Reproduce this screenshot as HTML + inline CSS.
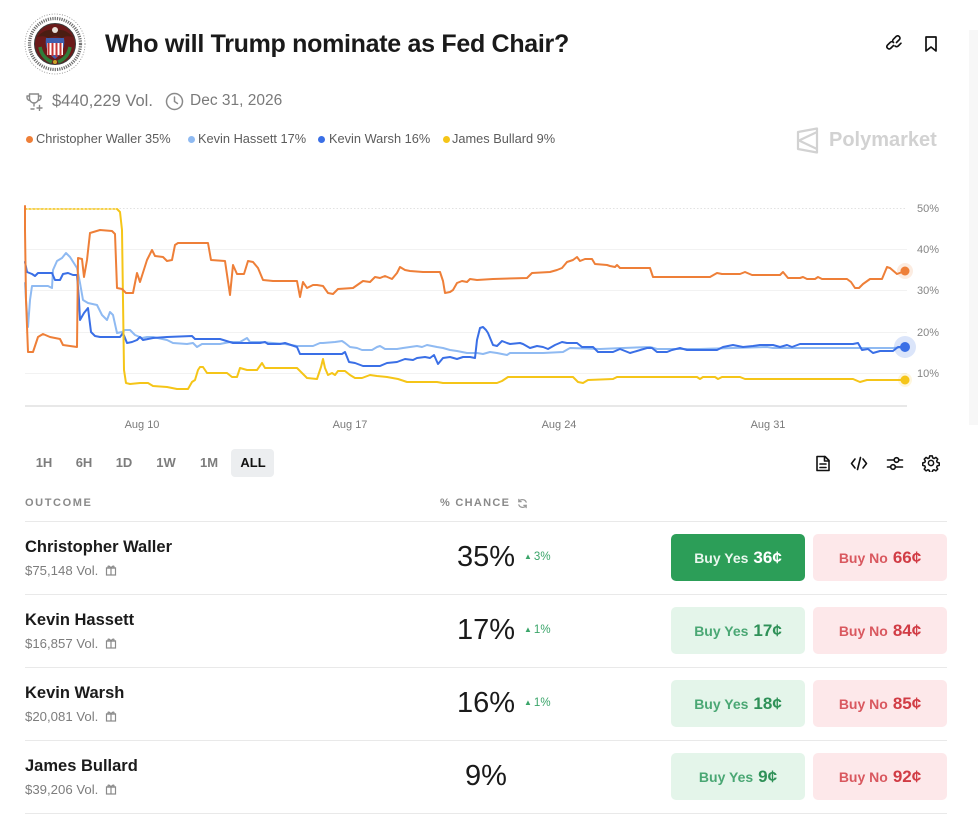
<!DOCTYPE html>
<html><head><meta charset="utf-8">
<style>
*{margin:0;padding:0;box-sizing:border-box}
body{width:978px;height:814px;background:#fff;font-family:"Liberation Sans",Arial,sans-serif;position:relative;overflow:hidden;color:#1b1b1b}
.a{position:absolute;white-space:nowrap}
.title{left:105px;top:29px;font-size:25px;line-height:30px;font-weight:bold;letter-spacing:-0.3px;color:#1a1a1a}
.meta{top:91px;font-size:16.5px;line-height:20px;color:#7a7a7a}
.leg{top:131px;font-size:12.8px;line-height:16px;color:#5c5c5c}
.dot{width:7px;height:7px;border-radius:50%;top:135.5px}
.tb{top:455px;font-size:13px;line-height:16px;font-weight:bold;color:#7d7d7d;transform:translateX(-50%)}
.hdr{top:497px;font-size:11px;line-height:12px;font-weight:bold;color:#8a8a8a;letter-spacing:1.6px}
.sep{left:25px;width:922px;height:1px;background:#e9e9e9}
.name{left:25px;font-size:16.5px;line-height:20px;font-weight:bold;color:#1b1b1b}
.vol{left:25px;font-size:13.2px;line-height:14px;color:#7d7d7d}
.pct{left:436px;width:100px;text-align:center;font-size:29px;line-height:32px;color:#1a1a1a}
.chg{left:524px;font-size:11.5px;line-height:14px;color:#3ba56a}
.chg b{font-size:8px;font-weight:normal;position:relative;top:-1px;margin-right:2px}
.btn{height:47px;width:134px;border-radius:5px;display:flex;align-items:center;justify-content:center;font-weight:bold;font-size:14px}
.btn span{font-size:17px;margin-left:5px}
.yes{left:671px;background:#e4f5ea;color:#4aa774}
.yes span{color:#2f9158}
.yesS{left:671px;background:#2c9e58;color:#e9f7ee}
.yesS span{color:#fff}
.no{left:813px;background:#fde8ea;color:#d9585f}
.no span{color:#d13c45}
</style></head><body>

<!-- right strip -->
<div class="a" style="left:969px;top:30px;width:9px;height:395px;background:#f7f7f7"></div>

<!-- seal logo -->
<svg class="a" style="left:22px;top:11px" width="66" height="66" viewBox="0 0 66 66">
 <circle cx="33" cy="33" r="31" fill="#fff"/>
 <circle cx="33" cy="33" r="30" fill="none" stroke="#8a8a8a" stroke-width="0.8" stroke-dasharray="1 1.6"/>
 <circle cx="33" cy="33" r="25.5" fill="none" stroke="#6e6e6e" stroke-width="3.2" stroke-dasharray="1.2 1.1"/>
 <circle cx="33" cy="33" r="20.5" fill="#6b1a1a" stroke="#3a3a3a" stroke-width="1"/>
 <path d="M15 26 Q24 16 33 20 Q42 16 51 26 Q44 24 40 27 L33 25 L26 27 Q22 24 15 26Z" fill="#4a1d12"/>
 <circle cx="33" cy="19" r="3" fill="#e8e0d8"/>
 <path d="M24 27 Q22 40 33 48 Q44 40 42 27Z" fill="#3d5fb0"/>
 <rect x="25" y="32" width="16" height="12" fill="#fff"/>
 <rect x="25.5" y="32" width="2" height="12" fill="#c63535"/>
 <rect x="29.5" y="32" width="2" height="13" fill="#c63535"/>
 <rect x="33.5" y="32" width="2" height="14" fill="#c63535"/>
 <rect x="37.5" y="32" width="2" height="13" fill="#c63535"/>
 <path d="M18 36 Q20 47 30 51 M48 36 Q46 47 36 51" stroke="#2f7d3a" stroke-width="3.5" fill="none"/>
 <circle cx="33" cy="51" r="2" fill="#c9a227"/>
</svg>

<div class="a title">Who will Trump nominate as Fed Chair?</div>

<!-- top right icons -->
<svg class="a" style="left:886px;top:35px" width="18" height="18" viewBox="0 0 18 18" fill="none" stroke="#111" stroke-width="1.6" stroke-linecap="round">
 <path d="M7.5 10.5 L4.5 13.5 a2.3 2.3 0 0 1 -3.2 -3.2 L4.3 7.3 a2.3 2.3 0 0 1 3.2 0"/>
 <path d="M10.5 7.5 L13.5 4.5 a2.3 2.3 0 0 0 -3.2 -3.2 L7.3 4.3 a2.3 2.3 0 0 0 0 3.2"/>
 <path d="M9 11 a2.3 2.3 0 0 0 3.2 0 l2.8 -2.8"/>
</svg>
<svg class="a" style="left:923px;top:35px" width="16" height="18" viewBox="0 0 16 18" fill="none" stroke="#111" stroke-width="1.7" stroke-linejoin="round">
 <path d="M3 2 H13 V16 L8 12 L3 16Z"/>
</svg>

<!-- meta row -->
<svg class="a" style="left:25px;top:92px" width="19" height="19" viewBox="0 0 19 19" fill="none" stroke="#8a8a8a" stroke-width="1.4" stroke-linecap="round" stroke-linejoin="round">
 <path d="M4.5 2 H13.5 V6.5 a4.5 4.5 0 0 1 -9 0Z"/>
 <path d="M4.5 4 H2 v1.5 a3 3 0 0 0 3 3 M13.5 4 H16 v1.5 a3 3 0 0 1 -3 3"/>
 <path d="M9 11 V14 M6 17 H9"/>
 <path d="M14.5 13.5 v5 M12 16 h5"/>
</svg>
<div class="a meta" style="left:52px">$440,229 Vol.</div>
<svg class="a" style="left:165px;top:92px" width="19" height="19" viewBox="0 0 19 19" fill="none" stroke="#8a8a8a" stroke-width="1.5" stroke-linecap="round">
 <circle cx="9.5" cy="9.5" r="8"/>
 <path d="M9.5 5 V9.5 L12.5 11.5"/>
</svg>
<div class="a meta" style="left:190px;font-size:15.5px">Dec 31, 2026</div>

<!-- legend -->
<div class="a dot" style="left:25.5px;background:#ee7f38"></div>
<div class="a leg" style="left:36px">Christopher Waller 35%</div>
<div class="a dot" style="left:187.5px;background:#8fbaf2"></div>
<div class="a leg" style="left:198px">Kevin Hassett 17%</div>
<div class="a dot" style="left:317.5px;background:#3a6fe6"></div>
<div class="a leg" style="left:329px">Kevin Warsh 16%</div>
<div class="a dot" style="left:442.5px;background:#f5c518"></div>
<div class="a leg" style="left:452px">James Bullard 9%</div>

<!-- polymarket logo -->
<svg class="a" style="left:796px;top:127px" width="24" height="27" viewBox="0 0 24 27" fill="none" stroke="#d2d2d2" stroke-width="2.2" stroke-linejoin="round">
 <path d="M2 5 L21 1.5 V25.5 L2 22Z"/>
 <path d="M21 5 L3 13.5 L21 22"/>
</svg>
<div class="a" style="left:829px;top:128px;font-size:20px;line-height:24px;font-weight:bold;color:#d2d2d2">Polymarket</div>

<!-- chart -->
<svg class="a" style="left:0;top:0" width="978" height="440" viewBox="0 0 978 440">
 <g stroke-width="1">
  <line x1="25" y1="208.5" x2="907" y2="208.5" stroke="#e2e2e2" stroke-dasharray="1.5 2"/>
  <line x1="25" y1="249.5" x2="907" y2="249.5" stroke="#f2f2f2"/>
  <line x1="25" y1="290.5" x2="907" y2="290.5" stroke="#f2f2f2"/>
  <line x1="25" y1="332.5" x2="907" y2="332.5" stroke="#f2f2f2"/>
  <line x1="25" y1="373.5" x2="907" y2="373.5" stroke="#f2f2f2"/>
 </g>
 <line x1="25" y1="406" x2="907" y2="406" stroke="#e8e8e8" stroke-width="2"/>
 <g font-family="Liberation Sans, Arial, sans-serif" font-size="11" fill="#858585">
  <text x="917" y="212">50%</text>
  <text x="917" y="253">40%</text>
  <text x="917" y="294">30%</text>
  <text x="917" y="336">20%</text>
  <text x="917" y="377">10%</text>
 </g>
 <g font-family="Liberation Sans, Arial, sans-serif" font-size="11" fill="#7a7a7a" text-anchor="middle">
  <text x="142" y="428">Aug 10</text>
  <text x="350" y="428">Aug 17</text>
  <text x="559" y="428">Aug 24</text>
  <text x="768" y="428">Aug 31</text>
 </g>
 <g fill="none" stroke-width="2" stroke-linejoin="round" stroke-linecap="round">
  <polyline stroke="#8fbaf2" points="25,283 26,300 28,327 30,300 32,286 48,286 52,288 53,270 57,261 62,258 66,253 70,257 77,268 80,283 83,300 88,303 97,305 102,315 107,320 110,312 113,315 117,333 122,332 125,330 130,330 135,335 142,338 147,337 153,337 167,340 173,343 187,344 193,343 197,347 202,344 220,344 230,342 240,342 247,338 250,342 260,342 273,343 285,344 297,346 313,346 320,343 323,343 335,342 342,341 345,343 350,347 357,348 362,350 372,350 377,347 380,346 385,349 397,349 403,348 410,347 417,346 422,347 427,345 437,347 443,348 450,350 457,351 467,353 477,353 483,354 490,352 497,353 507,355 510,353 543,353 563,352 570,348 600,349 623,348 650,347 657,349 700,349 733,348 767,347 773,348 893,348 905,347"/>
  <polyline stroke="#3a6fe6" points="25,262 27,272 32,274 35,276 38,273 52,273 55,280 60,280 63,274 68,273 73,275 77,275 79,300 80,320 84,313 88,308 91,332 95,336 100,337 115,337 120,337 123,333 127,343 132,342 137,340 140,337 143,340 153,338 167,337 192,336 195,339 220,339 233,343 260,343 265,342 268,344 280,344 285,343 297,347 300,354 342,354 345,352 349,362 355,363 363,366 380,366 387,363 397,362 405,359 413,360 417,358 425,357 430,358 434,355 438,364 443,358 450,357 457,359 463,357 470,357 475,358 477,340 480,328 483,327 486,330 488,333 493,345 497,346 502,341 507,343 510,344 520,343 523,344 530,348 537,346 543,347 548,349 555,345 562,342 567,343 577,343 582,347 593,347 598,352 613,352 620,349 625,351 630,353 647,348 652,348 657,352 667,352 672,350 680,348 687,350 717,350 723,347 733,345 743,347 753,346 760,345 773,345 780,347 787,345 792,347 800,344 853,344 858,343 862,350 868,349 873,353 880,351 893,351 898,347 905,347"/>
  <line x1="25" y1="209" x2="117" y2="209" stroke="#f5c518" stroke-width="1.5" stroke-dasharray="2 2"/>
  <polyline stroke="#f5c518" points="117,209 120,212 122,230 123,300 124,370 126,383 130,384 140,383 148,383 153,386 167,387 177,389 188,389 192,382 195,380 198,370 200,367 203,367 207,373 227,373 232,377 237,377 240,368 247,370 257,370 262,363 265,368 297,368 302,373 307,378 317,379 321,367 323,359 325,368 328,375 332,373 335,375 338,371 345,371 350,375 355,378 362,378 370,375 377,376 387,377 398,379 407,382 437,382 443,383 497,383 502,381 508,377 573,377 578,382 583,383 588,380 613,379 617,377 697,377 700,379 703,377 715,377 718,379 722,377 740,377 745,379 853,379 860,382 867,380 905,380"/>
  <polyline stroke="#ee7f38" points="25,206 25,230 26,300 28,352 33,352 38,337 43,334 50,337 60,339 63,345 77,347 78,258 82,259 84,277 87,260 90,233 100,230 112,231 115,234 117,288 122,289 126,293 133,293 137,273 140,282 147,260 152,250 155,256 163,257 167,261 172,260 175,245 178,243 208,243 211,260 225,261 230,295 233,265 237,274 244,274 248,261 253,262 258,268 263,280 273,281 297,281 300,297 303,282 307,288 313,285 317,285 323,286 328,293 333,294 338,289 353,288 363,281 370,282 375,277 380,278 385,276 392,279 397,273 400,267 405,270 410,271 423,272 440,272 443,281 445,293 450,292 453,290 457,283 462,281 467,282 470,279 477,280 493,279 527,278 532,273 550,272 557,270 562,268 567,262 573,260 577,257 580,261 585,259 592,259 595,264 607,265 610,266 615,267 617,265 620,268 650,268 653,277 710,277 717,273 722,274 740,274 745,272 752,275 780,275 783,272 788,278 800,278 803,277 807,279 815,279 818,277 822,279 847,279 851,282 855,288 859,288 863,284 870,279 882,279 887,267 890,268 897,274 905,271"/>
 </g>
 <circle cx="905" cy="271" r="8" fill="#ee7f38" opacity="0.15"/>
 <circle cx="905" cy="271" r="4.5" fill="#ee7f38"/>
 <circle cx="905" cy="347" r="11" fill="#3a6fe6" opacity="0.18"/>
 <circle cx="905" cy="347" r="5" fill="#3a6fe6"/>
 <circle cx="905" cy="380" r="7" fill="#f5c518" opacity="0.15"/>
 <circle cx="905" cy="380" r="4.5" fill="#f5c518"/>
</svg>

<!-- time buttons -->
<div class="a" style="left:231px;top:449px;width:43px;height:28px;background:#eceef0;border-radius:4px"></div>
<div class="a tb" style="left:44px">1H</div>
<div class="a tb" style="left:84px">6H</div>
<div class="a tb" style="left:124px">1D</div>
<div class="a tb" style="left:166px">1W</div>
<div class="a tb" style="left:209px">1M</div>
<div class="a tb" style="left:253px;color:#111">ALL</div>

<!-- tool icons -->
<svg class="a" style="left:815px;top:455px" width="16" height="17" viewBox="0 0 16 17" fill="none" stroke="#111" stroke-width="1.6" stroke-linejoin="round" stroke-linecap="round">
 <path d="M2 1.5 H10 L14 5.5 V15.5 H2Z"/><path d="M9.5 1.5 V6 H14"/><path d="M5 9 H11 M5 12.5 H11"/>
</svg>
<svg class="a" style="left:850px;top:455px" width="18" height="17" viewBox="0 0 18 17" fill="none" stroke="#111" stroke-width="1.6" stroke-linejoin="round" stroke-linecap="round">
 <path d="M5 4 L1.5 8.5 L5 13"/><path d="M13 4 L16.5 8.5 L13 13"/><path d="M10.5 2.5 L7.5 14.5"/>
</svg>
<svg class="a" style="left:886px;top:455px" width="18" height="17" viewBox="0 0 18 17" fill="none" stroke="#111" stroke-width="1.6" stroke-linecap="round">
 <path d="M1.5 5 H8 M13 5 H16.5"/><circle cx="10.5" cy="5" r="2.3"/>
 <path d="M1.5 12 H4.5 M9.5 12 H16.5"/><circle cx="7" cy="12" r="2.3"/>
</svg>
<svg class="a" style="left:922px;top:454px" width="18" height="18" viewBox="0 0 24 24" fill="none" stroke="#111" stroke-width="2" stroke-linejoin="round">
 <path d="M10.3 2.5h3.4l.6 2.7 1.9.8 2.4-1.5 2.4 2.4-1.5 2.4.8 1.9 2.7.6v3.4l-2.7.6-.8 1.9 1.5 2.4-2.4 2.4-2.4-1.5-1.9.8-.6 2.7h-3.4l-.6-2.7-1.9-.8-2.4 1.5-2.4-2.4 1.5-2.4-.8-1.9-2.7-.6v-3.4l2.7-.6.8-1.9-1.5-2.4 2.4-2.4 2.4 1.5 1.9-.8z"/>
 <circle cx="12" cy="12" r="3.5"/>
</svg>

<!-- table header -->
<div class="a hdr" style="left:25px">OUTCOME</div>
<div class="a hdr" style="left:440px;letter-spacing:1.3px">% CHANCE</div>
<svg class="a" style="left:517px;top:498px" width="11" height="11" viewBox="0 0 12 12" fill="none" stroke="#9a9a9a" stroke-width="1.4" stroke-linecap="round">
 <path d="M10 4.5 A4.5 4.5 0 0 0 2 4"/><path d="M2 1.5 V4 H4.5"/>
 <path d="M2 7.5 A4.5 4.5 0 0 0 10 8"/><path d="M10 10.5 V8 H7.5"/>
</svg>
<div class="a sep" style="top:521px"></div>

<!-- row 1 -->
<div class="a name" style="top:537px">Christopher Waller</div>
<div class="a vol" style="top:564px">$75,148 Vol.</div>
<svg class="a" style="left:105px;top:564px" width="12" height="12" viewBox="0 0 12 12" fill="none" stroke="#8a8a8a" stroke-width="1.2"><rect x="1.5" y="4" width="9" height="7"/><path d="M1 4 H11 M6 4 V11 M6 4 C4 1 2 2 3.5 4 M6 4 C8 1 10 2 8.5 4"/></svg>
<div class="a pct" style="top:541px">35%</div>
<div class="a chg" style="top:550px"><b>▲</b>3%</div>
<div class="a btn yesS" style="top:534px">Buy Yes<span>36¢</span></div>
<div class="a btn no" style="top:534px">Buy No<span>66¢</span></div>
<div class="a sep" style="top:594px"></div>

<!-- row 2 -->
<div class="a name" style="top:610px">Kevin Hassett</div>
<div class="a vol" style="top:637px">$16,857 Vol.</div>
<svg class="a" style="left:105px;top:637px" width="12" height="12" viewBox="0 0 12 12" fill="none" stroke="#8a8a8a" stroke-width="1.2"><rect x="1.5" y="4" width="9" height="7"/><path d="M1 4 H11 M6 4 V11 M6 4 C4 1 2 2 3.5 4 M6 4 C8 1 10 2 8.5 4"/></svg>
<div class="a pct" style="top:614px">17%</div>
<div class="a chg" style="top:623px"><b>▲</b>1%</div>
<div class="a btn yes" style="top:607px">Buy Yes<span>17¢</span></div>
<div class="a btn no" style="top:607px">Buy No<span>84¢</span></div>
<div class="a sep" style="top:667px"></div>

<!-- row 3 -->
<div class="a name" style="top:683px">Kevin Warsh</div>
<div class="a vol" style="top:710px">$20,081 Vol.</div>
<svg class="a" style="left:105px;top:710px" width="12" height="12" viewBox="0 0 12 12" fill="none" stroke="#8a8a8a" stroke-width="1.2"><rect x="1.5" y="4" width="9" height="7"/><path d="M1 4 H11 M6 4 V11 M6 4 C4 1 2 2 3.5 4 M6 4 C8 1 10 2 8.5 4"/></svg>
<div class="a pct" style="top:687px">16%</div>
<div class="a chg" style="top:696px"><b>▲</b>1%</div>
<div class="a btn yes" style="top:680px">Buy Yes<span>18¢</span></div>
<div class="a btn no" style="top:680px">Buy No<span>85¢</span></div>
<div class="a sep" style="top:740px"></div>

<!-- row 4 -->
<div class="a name" style="top:756px">James Bullard</div>
<div class="a vol" style="top:783px">$39,206 Vol.</div>
<svg class="a" style="left:105px;top:783px" width="12" height="12" viewBox="0 0 12 12" fill="none" stroke="#8a8a8a" stroke-width="1.2"><rect x="1.5" y="4" width="9" height="7"/><path d="M1 4 H11 M6 4 V11 M6 4 C4 1 2 2 3.5 4 M6 4 C8 1 10 2 8.5 4"/></svg>
<div class="a pct" style="top:760px">9%</div>
<div class="a btn yes" style="top:753px">Buy Yes<span>9¢</span></div>
<div class="a btn no" style="top:753px">Buy No<span>92¢</span></div>
<div class="a sep" style="top:813px"></div>

</body></html>
